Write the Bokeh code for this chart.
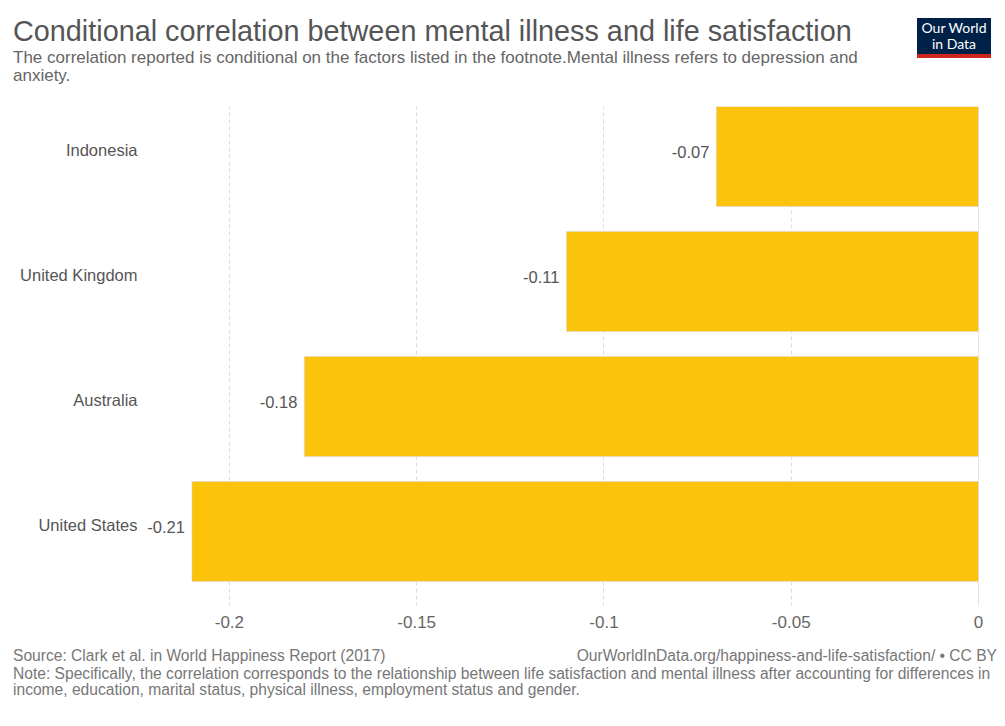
from bokeh.plotting import figure
from bokeh.models import Range1d, FixedTicker, Span, ColumnDataSource, Div
from bokeh.layouts import column
from bokeh.core.properties import value
from bokeh.embed import file_html
from bokeh.resources import INLINE

# ---- data ----
countries = ["United States", "Australia", "United Kingdom", "Indonesia"]
correlations = [-0.21, -0.18, -0.11, -0.07]
x_ticks = [-0.2, -0.15, -0.1, -0.05, 0]
x_tick_labels = ["-0.2", "-0.15", "-0.1", "-0.05", "0"]

title = "Conditional correlation between mental illness and life satisfaction"
subtitle = ["The correlation reported is conditional on the factors listed in the footnote.Mental illness refers to depression and",
            "anxiety."]
source_txt = "Source: Clark et al. in World Happiness Report (2017)"
url_txt = "OurWorldInData.org/happiness-and-life-satisfaction/ • CC BY"
note_txt = ["Note: Specifically, the correlation corresponds to the relationship between life satisfaction and mental illness after accounting for differences in",
            "income, education, marital status, physical illness, employment status and gender."]

FONT = "Liberation Sans"
W = 1005
TOP_H = 90
FIG_H = 550
FOOT_H = 726 - TOP_H - FIG_H

positions = list(range(len(countries)))
label_shift = 0.055  # lift category labels slightly, as in the original
src = ColumnDataSource(dict(pos=positions, val=correlations,
                            lab=[f"{v:g}" for v in correlations]))

p = figure(width=W, height=FIG_H,
           x_range=Range1d(-0.2224, 0), y_range=Range1d(-0.6, 3.4),
           output_backend="svg", toolbar_location=None,
           min_border_left=145, min_border_right=27,
           min_border_top=106 - TOP_H, min_border_bottom=TOP_H + FIG_H - 606,
           margin=0)
p.outline_line_color = None
p.background_fill_color = "white"
p.border_fill_color = "white"

p.hbar(y="pos", left=0, right="val", height=0.8, source=src,
       fill_color="#FBC30A", line_color="#d6d6d6", line_width=0.6)
p.text(x="val", y="pos", text="lab", source=src, x_offset=-7, y_offset=-5,
       text_align="right", text_baseline="middle",
       text_font=value(FONT), text_font_size="16.5px", text_color="#555555")

p.add_layout(Span(location=0, dimension="height", line_color="#cccccc", line_width=1))

# axes
p.xaxis.ticker = FixedTicker(ticks=x_ticks)
p.xaxis.major_label_overrides = {t: l for t, l in zip(x_ticks, x_tick_labels)}
p.xaxis.axis_line_color = None
p.xaxis.major_tick_line_color = None
p.xaxis.minor_tick_line_color = None
p.xaxis.major_label_standoff = 3
p.xaxis.major_label_text_font = FONT
p.xaxis.major_label_text_font_size = "17px"
p.xaxis.major_label_text_color = "#666666"

ytick_pos = [pp + label_shift for pp in positions]
p.yaxis.ticker = FixedTicker(ticks=ytick_pos)
p.yaxis.major_label_overrides = {t: c for t, c in zip(ytick_pos, countries)}
p.yaxis.axis_line_color = None
p.yaxis.major_tick_line_color = None
p.yaxis.minor_tick_line_color = None
p.yaxis.major_label_standoff = 2
p.yaxis.major_label_text_font = FONT
p.yaxis.major_label_text_font_size = "16.5px"
p.yaxis.major_label_text_color = "#555555"

p.xgrid.grid_line_color = "#dddddd"
p.xgrid.grid_line_dash = "4 3"
p.ygrid.grid_line_color = None

ff = "font-family:'Liberation Sans',Arial,sans-serif;"
top_html = f"""
<div style="position:relative;width:{W}px;height:{TOP_H}px;{ff}">
  <div style="position:absolute;left:13px;top:14px;font-size:28.8px;line-height:34px;color:#555;white-space:nowrap;">{title}</div>
  <div style="position:absolute;left:13px;top:49px;font-size:17px;line-height:18px;color:#666;white-space:nowrap;">{subtitle[0]}<br>{subtitle[1]}</div>
  <div style="position:absolute;left:917px;top:18px;width:74px;height:40px;box-sizing:border-box;background:#002147;border-bottom:4px solid #ce261e;padding-top:2px;color:#fff;font-family:Lato,sans-serif;font-size:14px;line-height:16px;text-align:center;">Our World<br>in Data</div>
</div>"""
foot_top = TOP_H + FIG_H
foot_html = f"""
<div style="position:relative;width:{W}px;height:{FOOT_H}px;{ff}font-size:15.6px;line-height:16px;color:#777;">
  <div style="position:absolute;left:13px;top:{648 - foot_top}px;white-space:nowrap;">{source_txt}</div>
  <div style="position:absolute;right:8px;top:{648 - foot_top}px;white-space:nowrap;">{url_txt}</div>
  <div style="position:absolute;left:13px;top:{666 - foot_top}px;white-space:nowrap;">{note_txt[0]}<br>{note_txt[1]}</div>
</div>"""

top_div = Div(text=top_html, width=W, height=TOP_H, margin=0)
foot_div = Div(text=foot_html, width=W, height=FOOT_H, margin=0)

layout = column(top_div, p, foot_div, spacing=0, margin=0)
open("out.html", "w").write(file_html(layout, INLINE))
